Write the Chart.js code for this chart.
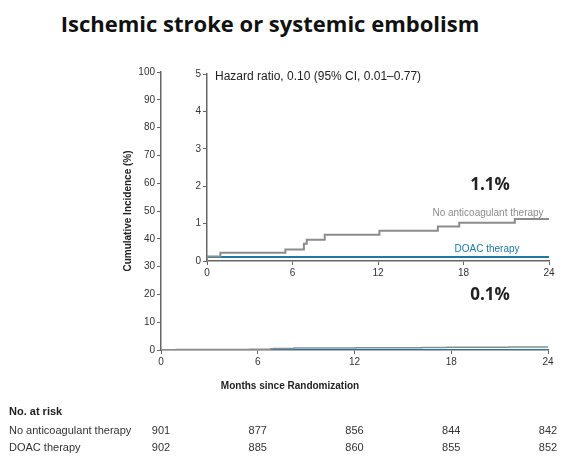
<!DOCTYPE html>
<html><head><meta charset="utf-8">
<script src="https://cdn.jsdelivr.net/npm/chart.js@4"></script>
<style>
body{margin:0;background:#fff;font-family:"Liberation Sans Narrow","Liberation Sans",Arial,sans-serif;}
#title{position:absolute;left:0;width:540px;top:8px;text-align:center;font:bold 22px "Open Sans","Liberation Sans",sans-serif;color:#111;}
#main{position:absolute;left:0;top:0;}
#inset{position:absolute;left:180px;top:60px;}
</style></head><body>
<div id="title">Ischemic stroke or systemic embolism</div>
<canvas id="main" width="581" height="475"></canvas>
<canvas id="inset" width="395" height="220"></canvas>
<script>
const FONT = '"Liberation Sans Narrow","Liberation Sans",Arial,sans-serif';
const GRAY = "#8c8c8c", BLUE = "#1f78a8", AXIS = "#666";

// Kaplan-Meier steps (months, cumulative incidence %)
const noAntiMonths = [0, 0.94, 5.5, 6.8, 7.0, 8.26, 12.1, 16.2, 17.7, 21.6, 23.9, 24];
const noAntiValues = [0, 0.12, 0.22, 0.31, 0.46, 0.57, 0.70, 0.81, 0.92, 1.02, 1.12, 1.12];
const doacMonths = [0, 22.5, 24];
const doacValues = [0, 0.11, 0.11];

const riskMonths = [0, 6, 12, 18, 24];
const riskNoAnti = [901, 877, 856, 844, 842];
const riskDoac = [902, 885, 860, 855, 852];

const pts = (xs, ys) => xs.map((x, i) => ({x: x, y: ys[i]}));

function datasets(w){
  return [
    {data: pts(noAntiMonths, noAntiValues), borderColor: GRAY, borderWidth: w, stepped: 'after', pointRadius: 0},
    {data: pts(doacMonths, doacValues), borderColor: BLUE, borderWidth: w, stepped: 'after', pointRadius: 0}
  ];
}

function axis(min, max, step, fix){
  return {
    type: 'linear', min: min, max: max,
    ticks: {stepSize: step, color: "#333", font: {family: FONT, size: 10}, padding: 2},
    grid: {drawOnChartArea: false, tickLength: 4, color: AXIS},
    border: {color: AXIS, width: 1.5},
    afterFit: fix
  };
}

/* MAIN CHART + TABLE */
const mainExtras = {
  id: 'mainExtras',
  afterDraw(c){
    const ctx = c.ctx, x = c.scales.x;
    ctx.save();
    ctx.fillStyle = "#222";
    ctx.font = "bold 10px " + FONT;
    ctx.textAlign = "center";
    ctx.fillText("Months since Randomization", 290, 389);
    ctx.save();
    ctx.translate(131, 211);
    ctx.rotate(-Math.PI/2);
    ctx.fillText("Cumulative Incidence (%)", 0, 0);
    ctx.restore();
    ctx.font = "bold 17px 'Open Sans',sans-serif";
    ctx.fillText("0.1%", 490, 300);
    ctx.textAlign = "left";
    ctx.font = "bold 11px " + FONT;
    ctx.fillText("No. at risk", 9, 415);
    ctx.font = "11px " + FONT;
    ctx.fillStyle = "#333";
    ctx.fillText("No anticoagulant therapy", 9, 434);
    ctx.fillText("DOAC therapy", 9, 451);
    ctx.textAlign = "center";
    riskMonths.forEach((m, i) => {
      const px = x.getPixelForValue(m);
      ctx.fillText(riskNoAnti[i], px, 434);
      ctx.fillText(riskDoac[i], px, 451);
    });
    ctx.restore();
  }
};

new Chart(document.getElementById("main"), {
  type: 'line',
  data: {datasets: datasets(1.5)},
  options: {
    responsive: false, animation: false,
    layout: {padding: {left: 0, right: 33, top: 72, bottom: 0}},
    plugins: {legend: {display: false}, tooltip: {enabled: false}},
    scales: {
      x: axis(0, 24, 6, s => { s.height = 125; }),
      y: axis(0, 100, 10, s => { s.width = 161; })
    }
  },
  plugins: [mainExtras]
});

/* INSET */
const insetExtras = {
  id: 'insetExtras',
  afterDraw(c){
    const ctx = c.ctx, ox = 180, oy = 60;
    ctx.save();
    ctx.fillStyle = "#222";
    ctx.font = "12px " + FONT;
    ctx.fillText("Hazard ratio, 0.10 (95% CI, 0.01\u20130.77)", 215 - ox, 80 - oy);
    ctx.textAlign = "center";
    ctx.font = "bold 17px 'Open Sans',sans-serif";
    ctx.fillText("1.1%", 490 - ox, 190 - oy);
    ctx.font = "10px " + FONT;
    ctx.fillStyle = GRAY;
    ctx.fillText("No anticoagulant therapy", 488 - ox, 216 - oy);
    ctx.fillStyle = BLUE;
    ctx.fillText("DOAC therapy", 487 - ox, 252 - oy);
    ctx.restore();
  }
};

new Chart(document.getElementById("inset"), {
  type: 'line',
  data: {datasets: datasets(2)},
  options: {
    responsive: false, animation: false,
    layout: {padding: {left: 0, right: 26, top: 14, bottom: 0}},
    plugins: {legend: {display: false}, tooltip: {enabled: false}},
    scales: {
      x: axis(0, 24, 6, s => { s.height = 19; }),
      y: axis(0, 5, 1, s => { s.width = 27; })
    }
  },
  plugins: [insetExtras]
});
</script>
</body></html>
